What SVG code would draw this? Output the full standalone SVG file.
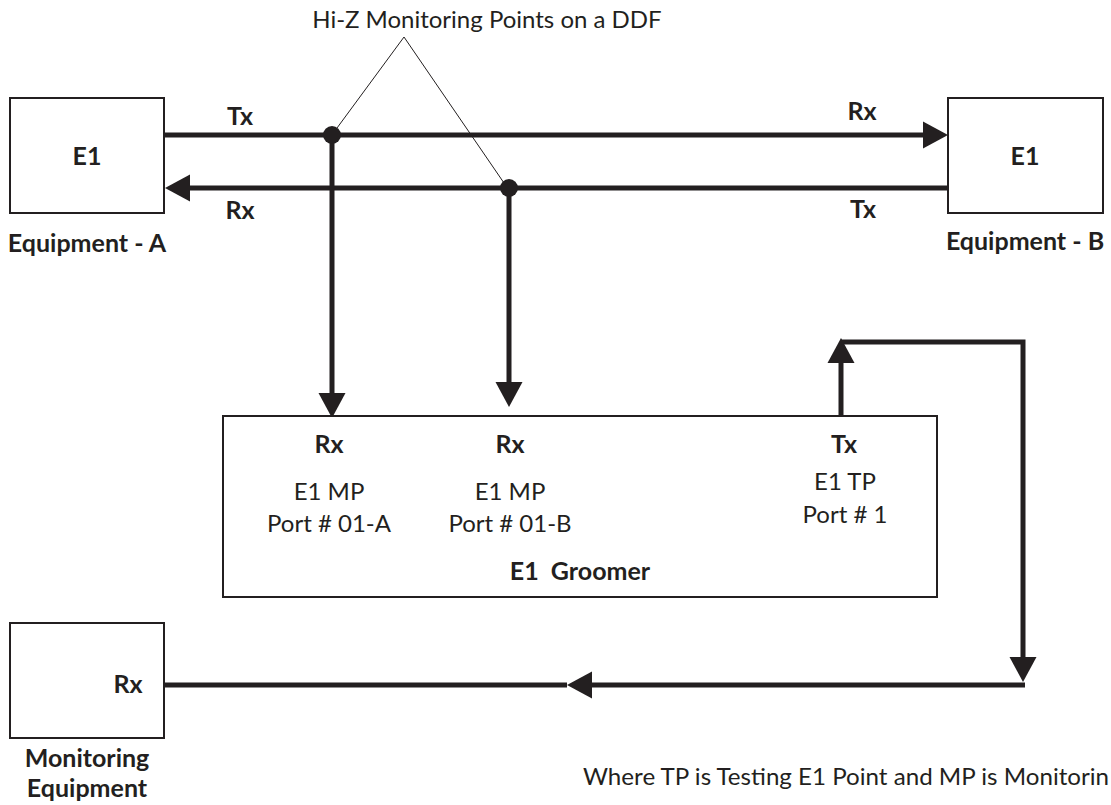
<svg xmlns="http://www.w3.org/2000/svg" width="1111" height="805" viewBox="0 0 1111 805">
<style>
text{font-family:Lato,"Open Sans","Liberation Sans",sans-serif;font-size:24px;fill:#231f20}
.b{font-weight:bold;font-size:25px}
.m{text-anchor:middle}
.box{fill:#fff;stroke:#231f20;stroke-width:2}
.w{fill:none;stroke:#231f20;stroke-width:5}
.lead{fill:none;stroke:#231f20;stroke-width:1}
</style>
<defs>
<marker id="ah" markerUnits="userSpaceOnUse" markerWidth="26" markerHeight="28" refX="0" refY="13.5" orient="auto" overflow="visible">
<path d="M0,0 L25,13.5 L0,27 z" fill="#231f20"/>
</marker>
</defs>
<rect width="1111" height="805" fill="#fff"/>
<g id="connectors">
<path class="w" d="M164,135 H923" marker-end="url(#ah)"/>
<path class="w" d="M948,188 H190" marker-end="url(#ah)"/>
<path class="w" d="M332,135 V393" marker-end="url(#ah)"/>
<path class="w" d="M509,188 V382" marker-end="url(#ah)"/>
<path class="w" d="M841,416 V363" marker-end="url(#ah)"/>
<path class="w" d="M841,342 H1023 V657" marker-end="url(#ah)"/>
<path class="w" d="M1025,685 H592" marker-end="url(#ah)"/>
<path class="w" d="M567,685 H164"/>
<circle cx="332" cy="135" r="9" fill="#231f20"/>
<circle cx="509" cy="188" r="9" fill="#231f20"/>
<path class="lead" d="M337,128 L404,37 L504,183"/>
</g>
<g id="hiz-label">
<text x="487" y="28" class="m">Hi-Z Monitoring Points on a DDF</text>
</g>
<g id="equipment-a">
<rect class="box" x="10" y="98" width="154" height="115"/>
<text x="87" y="165" class="b m">E1</text>
<text x="87" y="252" class="b m">Equipment - A</text>
</g>
<g id="equipment-a-labels">
<text x="240" y="125" class="b m">Tx</text>
<text x="240" y="219" class="b m">Rx</text>
</g>
<g id="equipment-b">
<rect class="box" x="948" y="98" width="155" height="115"/>
<text x="1025" y="165" class="b m">E1</text>
<text x="1025" y="250" class="b m">Equipment - B</text>
</g>
<g id="equipment-b-labels">
<text x="862" y="120" class="b m">Rx</text>
<text x="863" y="218" class="b m">Tx</text>
</g>
<g id="groomer">
<rect class="box" x="223" y="416" width="714" height="181"/>
<text x="329" y="453" class="b m">Rx</text>
<text x="329" y="500" class="m">E1 MP</text>
<text x="329" y="532" class="m">Port # 01-A</text>
<text x="510" y="453" class="b m">Rx</text>
<text x="510" y="500" class="m">E1 MP</text>
<text x="510" y="532" class="m">Port # 01-B</text>
<text x="844" y="453" class="b m">Tx</text>
<text x="845" y="490" class="m">E1 TP</text>
<text x="845" y="523" class="m">Port # 1</text>
<text x="580" y="580" class="b m" xml:space="preserve">E1  Groomer</text>
</g>
<g id="monitoring-equipment">
<rect class="box" x="10" y="623" width="154" height="115"/>
<text x="128" y="693" class="b m">Rx</text>
<text x="87" y="767" class="b m">Monitoring</text>
<text x="87" y="797" class="b m">Equipment</text>
</g>
<g id="note">
<text x="583" y="785" textLength="526" lengthAdjust="spacingAndGlyphs">Where TP is Testing E1 Point and MP is Monitorin</text>
</g>
</svg>
